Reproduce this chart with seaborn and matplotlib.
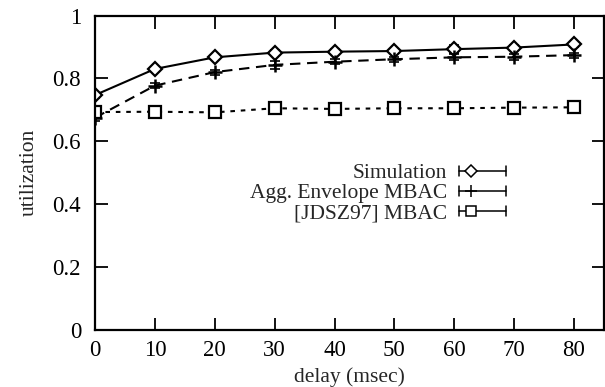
import matplotlib
matplotlib.use("Agg")
import matplotlib.pyplot as plt
import seaborn as sns
import pandas as pd
import numpy as np
from matplotlib.lines import Line2D
from matplotlib.legend_handler import HandlerBase

# ---- data ----
delay = [0, 10, 20, 30, 40, 50, 60, 70, 80]
sim_util = [0.747, 0.830, 0.867, 0.882, 0.885, 0.887, 0.893, 0.898, 0.908]
sim_err = [0.008, 0.006, 0.006, 0.008, 0.008, 0.006, 0.012, 0.008, 0.008]
agg_util = [0.675, 0.777, 0.820, 0.843, 0.853, 0.861, 0.867, 0.869, 0.874]
agg_err = [0.012, 0.008, 0.008, 0.012, 0.008, 0.008, 0.010, 0.010, 0.008]
jdsz_util = [0.693, 0.694, 0.692, 0.705, 0.703, 0.705, 0.705, 0.707, 0.708]
jdsz_err = [0.010, 0.006, 0.006, 0.008, 0.008, 0.006, 0.008, 0.006, 0.008]
labels = ["Simulation", "Agg. Envelope MBAC", "[JDSZ97] MBAC"]
x_ticks = [0, 10, 20, 30, 40, 50, 60, 70, 80]
y_ticks = [0, 0.2, 0.4, 0.6, 0.8, 1.0]
y_ticklabels = ["0", "0.2", "0.4", "0.6", "0.8", "1"]

sns.set_theme(style="ticks")
plt.rcParams["font.family"] = ["Liberation Serif", "DejaVu Serif"]
FS = 15.5
TFS = 16.5

fig = plt.figure(figsize=(6.05, 3.87), dpi=100)
ax = fig.add_axes([95 / 605, 1 - 330 / 387, 509 / 605, 314.5 / 387])

series = [
    (sim_util, sim_err, "D", "-", None, 7),
    (agg_util, agg_err, "P", "--", (5, 3.2), 9.5),
    (jdsz_util, jdsz_err, "s", ":", (2.2, 2.8), 8),
]

for (vals, err, mk, ls, dash, ms), lab in zip(series, labels):
    df = pd.DataFrame({"delay": delay, "util": vals})
    line = sns.lineplot(x="delay", y="util", data=df, ax=ax, color="black",
                        linewidth=1.5, legend=False).lines[-1]
    if dash is not None:
        line.set_dashes(dash)
    ax.errorbar(delay, vals, yerr=err, fmt="none", ecolor="black",
                elinewidth=1.2, capsize=3.5, capthick=1.2)
    if mk == "P":
        ax.plot(delay, vals, linestyle="none", marker="+", markersize=ms,
                markeredgewidth=1.8, color="black")
    else:
        ax.plot(delay, vals, linestyle="none", marker=mk, markersize=ms,
                markerfacecolor="white", markeredgecolor="black",
                markeredgewidth=1.6)

ax.set_xlim(0, 85)
ax.set_ylim(0, 1)
ax.set_xticks(x_ticks)
ax.set_xticklabels([str(t) for t in x_ticks])
ax.set_yticks(y_ticks)
ax.set_yticklabels(y_ticklabels)
ax.tick_params(direction="in", length=9, width=1.3, top=True, right=True,
               labelsize=TFS, colors="black")
ax.tick_params(axis="y", pad=10)
ax.tick_params(axis="x", pad=7)
for s in ax.spines.values():
    s.set_visible(True)
    s.set_linewidth(1.6)
    s.set_color("black")
ax.set_xlabel("delay (msec)", fontsize=FS, labelpad=5)
ax.set_ylabel("utilization", fontsize=FS, labelpad=10)
ax.grid(False)


class CappedHandler(HandlerBase):
    def __init__(self, marker, ms):
        super().__init__()
        self.marker = marker
        self.ms = ms

    def create_artists(self, legend, orig_handle, xdescent, ydescent, width,
                       height, fontsize, trans):
        y = height / 2 - ydescent
        x0, x1 = -xdescent, -xdescent + width
        cap = height * 0.33
        arts = [
            Line2D([x0, x1], [y, y], color="black", lw=1.1),
            Line2D([x0, x0], [y - cap, y + cap], color="black", lw=1.1),
            Line2D([x1, x1], [y - cap, y + cap], color="black", lw=1.1),
        ]
        xm = x0 + width * 0.27
        if self.marker == "+":
            arts.append(Line2D([xm], [y], marker="+", markersize=self.ms,
                               markeredgewidth=1.1, color="black"))
        else:
            arts.append(Line2D([xm], [y], marker=self.marker,
                               markersize=self.ms, markerfacecolor="white",
                               markeredgecolor="black", markeredgewidth=1.1))
        for a in arts:
            a.set_transform(trans)
        return arts


h1, h2, h3 = Line2D([], []), Line2D([], []), Line2D([], [])
leg = ax.legend([h1, h2, h3], labels, frameon=False, markerfirst=False,
                loc="upper right",
                bbox_to_anchor=(506 / 605, 1 - 163 / 387),
                bbox_transform=fig.transFigure,
                borderpad=0, borderaxespad=0, handlelength=2.2,
                handletextpad=0.55, labelspacing=0.0, fontsize=FS,
                handler_map={h1: CappedHandler("D", 6.5),
                             h2: CappedHandler("+", 8),
                             h3: CappedHandler("s", 7.5)})

fig.savefig("out.png", dpi=100)
